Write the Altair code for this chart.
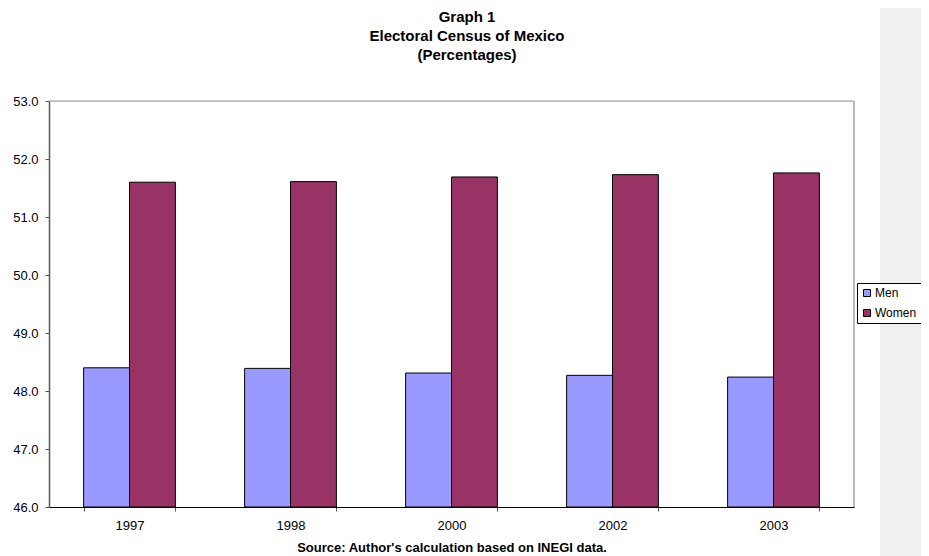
import altair as alt
import pandas as pd

years = ["1997", "1998", "2000", "2002", "2003"]
men = [48.40, 48.39, 48.31, 48.27, 48.24]
women = [51.60, 51.61, 51.69, 51.73, 51.76]
series = ["Men", "Women"]
colors = ["#9999FF", "#993366"]
y_ticks = [46, 47, 48, 49, 50, 51, 52, 53]
title_lines = ["Graph 1", "Electoral Census of Mexico", "(Percentages)"]
source_note = "Source: Author's calculation based on INEGI data."

rows = []
for i, yr in enumerate(years):
    rows.append({"Year": yr, "Gender": "Men", "Value": men[i]})
    rows.append({"Year": yr, "Gender": "Women", "Value": women[i]})
df = pd.DataFrame(rows)
one = pd.DataFrame({"k": [0]})

FONT = "Liberation Sans"

bars = alt.Chart(df).mark_bar(stroke="black", strokeWidth=1).encode(
    x=alt.X(
        "Year:N",
        sort=years,
        scale=alt.Scale(paddingInner=0.43, paddingOuter=0.215),
        axis=alt.Axis(
            title=source_note,
            titleFont=FONT, titleFontSize=13, titleFontWeight="bold",
            titleColor="black", titlePadding=9,
            labelAngle=0, labelFont=FONT, labelFontSize=13, labelColor="black",
            labelPadding=8, tickBand="extent", tickSize=4, tickColor="#555555",
            domainColor="black", domainWidth=1,
        ),
    ),
    xOffset=alt.XOffset("Gender:N", sort=series, scale=alt.Scale(paddingInner=0, paddingOuter=0)),
    y=alt.Y(
        "Value:Q",
        scale=alt.Scale(domain=[46, 53], nice=False, zero=False),
        axis=alt.Axis(
            title=None, values=y_ticks, format=".1f", grid=False,
            labelFont=FONT, labelFontSize=13, labelColor="black", labelPadding=7,
            tickSize=4, tickColor="#555555", domainColor="#555555", domainWidth=1.5,
        ),
    ),
    y2=alt.datum(46),
    color=alt.Color(
        "Gender:N",
        sort=series,
        scale=alt.Scale(domain=series, range=colors),
        legend=alt.Legend(
            title=None, orient="none", legendX=808, legendY=182,
            strokeColor="black", fillColor="white", padding=4,
            symbolType="square", symbolSize=49, symbolStrokeColor="black",
            symbolStrokeWidth=1, symbolOpacity=1,
            labelFont=FONT, labelFontSize=12, labelColor="black", labelOffset=2,
            rowPadding=8,
        ),
    ),
)

strip = alt.Chart(one).mark_rect(color="#F0F0F0").encode(
    x=alt.value(831), x2=alt.value(880), y=alt.value(-101), y2=alt.value(455)
)
top_border = alt.Chart(one).mark_rule(color="#999999", strokeWidth=1).encode(
    x=alt.value(0), x2=alt.value(805), y=alt.value(0)
)
right_border = alt.Chart(one).mark_rule(color="#BBBBBB", strokeWidth=2).encode(
    x=alt.value(805), y=alt.value(0), y2=alt.value(406)
)
title = alt.Chart(one).mark_text(
    text=title_lines, font=FONT, fontSize=15, fontWeight="bold", color="black",
    lineHeight=19, align="center", baseline="alphabetic",
).encode(x=alt.value(418), y=alt.value(-79))

chart = alt.layer(strip, top_border, right_border, title, bars).properties(
    width=805,
    height=406,
    autosize=alt.AutoSizeParams(type="none"),
    padding={"left": 41, "top": 93, "right": 67, "bottom": 49},
).configure_view(stroke=None).configure(background="white")

chart.save("out.html", embed_options={"renderer": "svg", "actions": False})
